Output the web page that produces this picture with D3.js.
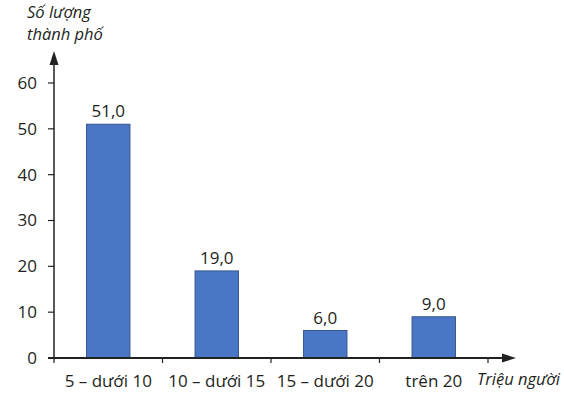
<!DOCTYPE html>
<html lang="vi">
<head>
	<meta charset="UTF-8">
	<title>Số lượng thành phố theo quy mô dân số</title>
	<script src="https://d3js.org/d3.v7.min.js"></script>
	<style>
		body { margin: 0; background: #fff; }
		svg text { font-family: "Open Sans", "Noto Sans", sans-serif; fill: #231f20; }
		.axis-title { font-style: italic; font-size: 16.5px; }
		.tick-label { font-size: 17px; }
		.cat-label { font-size: 17px; }
		.value-label { font-size: 17px; }
		.bar { fill: #4a76c6; stroke: #34558f; stroke-width: 1px; }
	</style>
</head>
<body>
<svg id="chart" width="564" height="393"></svg>
<script>
const width = 564, height = 393;

// data
const categories = ["5 – dưới 10", "10 – dưới 15", "15 – dưới 20", "trên 20"];
const values = [51.0, 19.0, 6.0, 9.0];
const yTicks = [0, 10, 20, 30, 40, 50, 60];

const x0 = 54, y0 = 358;
const svg = d3.select("#chart");

const x = d3.scaleBand()
	.domain(categories)
	.range([x0, 488])
	.padding(0);

const y = d3.scaleLinear()
	.domain([0, 60])
	.range([y0, 83]);

const barW = x.bandwidth() * 0.4;

// bars
svg.selectAll(".bar")
	.data(values)
	.enter()
	.append("rect")
	.attr("class", "bar")
	.attr("x", (d, i) => x(categories[i]) + x.bandwidth() / 2 - barW / 2)
	.attr("y", d => y(d))
	.attr("width", barW)
	.attr("height", d => y0 - y(d));

// value labels
svg.selectAll(".value-label")
	.data(values)
	.enter()
	.append("text")
	.attr("class", "value-label")
	.attr("text-anchor", "middle")
	.attr("x", (d, i) => x(categories[i]) + x.bandwidth() / 2)
	.attr("y", d => y(d) - 7)
	.text(d => d.toFixed(1).replace(".", ","));

// y axis
svg.append("line")
	.attr("x1", x0).attr("y1", y0)
	.attr("x2", x0).attr("y2", 60)
	.attr("stroke", "#222").attr("stroke-width", 1.5);
svg.append("path")
	.attr("d", `M${x0},51 L${x0 - 4.5},65 L${x0 + 4.5},65 Z`)
	.attr("fill", "#222");

svg.selectAll(".ytick")
	.data(yTicks.filter(d => d > 0))
	.enter()
	.append("line")
	.attr("class", "ytick")
	.attr("x1", x0 - 6).attr("x2", x0)
	.attr("y1", d => y(d)).attr("y2", d => y(d))
	.attr("stroke", "#222").attr("stroke-width", 1.2);

svg.selectAll(".tick-label")
	.data(yTicks)
	.enter()
	.append("text")
	.attr("class", "tick-label")
	.attr("text-anchor", "end")
	.attr("x", 37)
	.attr("y", d => y(d))
	.attr("dy", "0.35em")
	.text(d => d);

// x axis
svg.append("line")
	.attr("x1", x0 - 6).attr("y1", y0)
	.attr("x2", 506).attr("y2", y0)
	.attr("stroke", "#222").attr("stroke-width", 2);
svg.append("path")
	.attr("d", `M516,${y0} L502,${y0 - 4.5} L502,${y0 + 4.5} Z`)
	.attr("fill", "#222");

const xTicks = [x0].concat(categories.map(c => x(c) + x.bandwidth()));
svg.selectAll(".xtick")
	.data(xTicks)
	.enter()
	.append("line")
	.attr("class", "xtick")
	.attr("x1", d => d).attr("x2", d => d)
	.attr("y1", y0).attr("y2", y0 + 5)
	.attr("stroke", "#222").attr("stroke-width", 1.2);

svg.selectAll(".cat-label")
	.data(categories)
	.enter()
	.append("text")
	.attr("class", "cat-label")
	.attr("text-anchor", "middle")
	.attr("x", d => x(d) + x.bandwidth() / 2)
	.attr("y", 387)
	.text(d => d);

// axis titles
svg.append("text")
	.attr("class", "axis-title")
	.attr("x", 27).attr("y", 18)
	.text("Số lượng");
svg.append("text")
	.attr("class", "axis-title")
	.attr("x", 27).attr("y", 40)
	.text("thành phố");
svg.append("text")
	.attr("class", "axis-title")
	.attr("x", 477).attr("y", 385)
	.text("Triệu người");
</script>
</body>
</html>
